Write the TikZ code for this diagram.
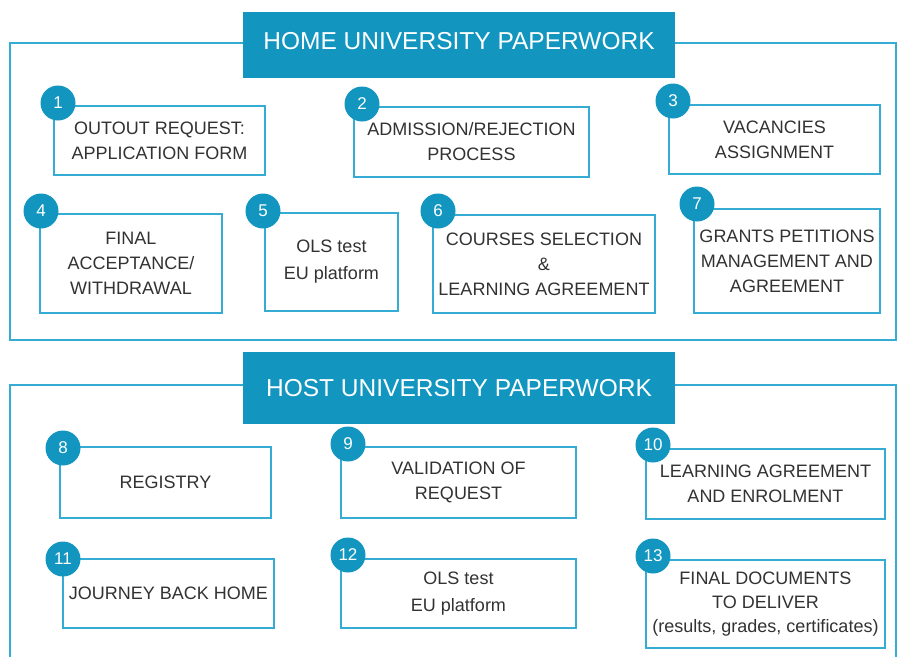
\documentclass[tikz,border=0pt]{standalone}
\usepackage{fontspec}
\setmainfont{Liberation Sans}
\usetikzlibrary{positioning}

\definecolor{headblue}{RGB}{18,150,192}
\definecolor{lineblue}{RGB}{52,172,212}
\definecolor{textgray}{RGB}{50,50,50}

\tikzset{
  frame/.style={draw=lineblue, line width=2pt},
  header/.style={fill=headblue, text=white, minimum width=432pt, minimum height=66pt,
    inner sep=0pt, font=\fontsize{24.5}{28}\selectfont},
  task/.style={draw=lineblue, line width=2pt, fill=white, text=textgray, align=center,
    inner sep=0pt, font=\fontsize{18}{25}\selectfont},
  num/.style={circle, fill=headblue, text=white, minimum size=35pt, inner sep=0pt,
    font=\fontsize{17}{17}\selectfont}
}

\begin{document}
\begin{tikzpicture}[x=1pt, y=-1pt]

    % Fix the page to the size of the reference
    \useasboundingbox (0,0) rectangle (898,657);

    % Frames of the two sections
    \draw[frame] (10,43) rectangle (896,340);
    \draw[frame] (10,657) -- (10,385) -- (896,385) -- (896,657);

    % Section headers
    \node[header, text depth=8pt] (home) at (459,45) {HOME UNIVERSITY PAPERWORK};
    \node[header, minimum height=72pt] (host) at (459,388) {HOST UNIVERSITY PAPERWORK};

    % Home university steps
    \node[task, minimum width=211pt, minimum height=69pt] (b1) at (159.5,140.5) {OUTOUT REQUEST:\\APPLICATION FORM};
    \node[task, minimum width=235pt, minimum height=70pt] (b2) at (471.5,142) {ADMISSION/REJECTION\\PROCESS};
    \node[task, minimum width=211pt, minimum height=69pt] (b3) at (774.5,139.5) {VACANCIES\\ASSIGNMENT};
    \node[task, minimum width=182pt, minimum height=99pt] (b4) at (131,263.5) {FINAL\\ACCEPTANCE/\\WITHDRAWAL};
    \node[task, minimum width=133pt, minimum height=98pt, font=\fontsize{18}{27}\selectfont] (b5) at (331.5,262) {OLS test\\EU platform};
    \node[task, minimum width=222pt, minimum height=98pt] (b6) at (544,264) {COURSES SELECTION\\\&\\LEARNING AGREEMENT};
    \node[task, minimum width=186pt, minimum height=104pt] (b7) at (787,261) {GRANTS PETITIONS\\MANAGEMENT AND\\AGREEMENT};

    % Host university steps
    \node[task, minimum width=211pt, minimum height=71pt] (b8) at (165.5,482.5) {REGISTRY};
    \node[task, minimum width=235pt, minimum height=71pt] (b9) at (458.5,482.5) {VALIDATION OF\\REQUEST};
    \node[task, minimum width=239pt, minimum height=70pt] (b10) at (765.5,484) {LEARNING AGREEMENT\\AND ENROLMENT};
    \node[task, minimum width=211pt, minimum height=69pt] (b11) at (168.5,593.5) {JOURNEY BACK HOME};
    \node[task, minimum width=235pt, minimum height=69pt, font=\fontsize{18}{27}\selectfont] (b12) at (458.5,593.5) {OLS test\\EU platform};
    \node[task, minimum width=239pt, minimum height=88pt, font=\fontsize{18}{24}\selectfont] (b13) at (765.5,604) {FINAL DOCUMENTS\\TO DELIVER\\(results, grades, certificates)};

    % Numbered badges on the box corners
    \node[num] (n1) at (58,103) {1};
    \node[num] (n2) at (362,104) {2};
    \node[num] (n3) at (673,101) {3};
    \node[num] (n4) at (41,211) {4};
    \node[num] (n5) at (263,211) {5};
    \node[num] (n6) at (438,211) {6};
    \node[num] (n7) at (697,204) {7};
    \node[num] (n8) at (63,448) {8};
    \node[num] (n9) at (348,444) {9};
    \node[num] (n10) at (653,445) {10};
    \node[num] (n11) at (63,559) {11};
    \node[num] (n12) at (348,555) {12};
    \node[num] (n13) at (653,556) {13};

\end{tikzpicture}
\end{document}
